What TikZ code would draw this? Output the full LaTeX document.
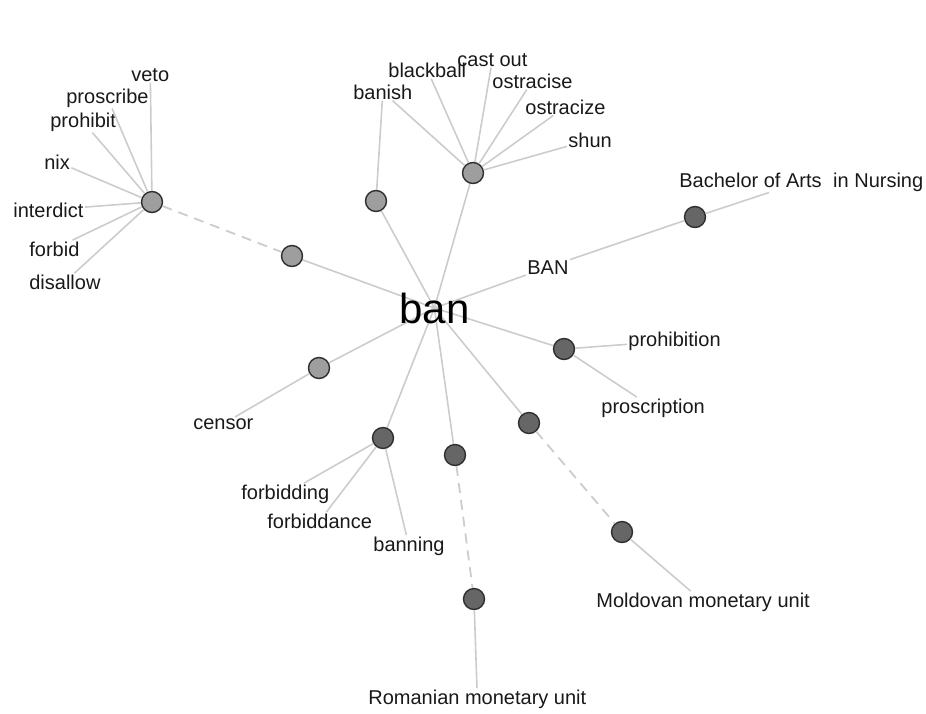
\documentclass[tikz,border=0pt]{standalone}
\usepackage{fontspec}
\setmainfont{Liberation Sans}
\usetikzlibrary{backgrounds}
\definecolor{lightdot}{gray}{0.62}
\definecolor{darkdot}{gray}{0.40}
\definecolor{linkgray}{gray}{0.80}
\definecolor{rimgray}{gray}{0.18}

\tikzset{every picture/.style={line width=0.75pt}}
\tikzset{
    dot/.style={circle, draw=rimgray, line width=1.4pt, minimum size=21pt, inner sep=0pt},
    verbdot/.style={dot, fill=lightdot},
    noundot/.style={dot, fill=darkdot},
    word/.style={anchor=base west, inner sep=1pt, text=black!90, font=\fontsize{20}{23}\selectfont},
    link/.style={draw=linkgray, line width=1.6pt},
    farlink/.style={link, line width=1.8pt, dash pattern={on 10pt off 7pt}}
}

\begin{document}
\begin{tikzpicture}[x=1pt, y=-1pt]
    \useasboundingbox (0,0) rectangle (926,713);
    \node[anchor=base west, inner sep=0pt, font=\fontsize{42}{46}\selectfont] (ban) at (399,323) {ban};

    \node[verbdot] (forbidhub) at (152,202) {};
    \node[verbdot] (forbidnear) at (292,256) {};
    \node[verbdot] (banishdot) at (376,201) {};
    \node[verbdot] (shunhub) at (473,173) {};
    \node[verbdot] (censordot) at (319,368) {};
    \node[noundot] (nursedot) at (695,217) {};
    \node[noundot] (prohibhub) at (564,349) {};
    \node[noundot] (banninghub) at (383,438) {};
    \node[noundot] (leunear) at (455,455) {};
    \node[noundot] (leufar) at (474,599) {};
    \node[noundot] (moldnear) at (529,423) {};
    \node[noundot] (moldfar) at (622,532) {};

    \node[word] (wveto) at (130,81) {veto};
    \node[word] (wproscribe) at (65,103) {proscribe};
    \node[word] (wprohibit) at (49,127) {prohibit};
    \node[word] (wnix) at (43,169) {nix};
    \node[word] (winterdict) at (12,217) {interdict};
    \node[word] (wforbid) at (28,256) {forbid};
    \node[word] (wdisallow) at (28,289) {disallow};
    \node[word] (wbanish) at (352,99) {banish};
    \node[word] (wblackball) at (387,77) {blackball};
    \node[word] (wcastout) at (456,66) {cast out};
    \node[word] (wostracise) at (491,88) {ostracise};
    \node[word] (wostracize) at (524,114) {ostracize};
    \node[word] (wshun) at (567,147) {shun};
    \node[word] (wnursing) at (678,187) {Bachelor of Arts\hspace{0.3em} in Nursing};
    \node[word] (wabbr) at (526,274) {BAN};
    \node[word] (wprohibition) at (627,346) {prohibition};
    \node[word] (wproscription) at (600,413) {proscription};
    \node[word] (wcensor) at (192,429) {censor};
    \node[word] (wforbidding) at (240,499) {forbidding};
    \node[word] (wforbiddance) at (266,528) {forbiddance};
    \node[word] (wbanning) at (372,551) {banning};
    \node[word] (wmoldovan) at (595,607) {Moldovan monetary unit};
    \node[word] (wromanian) at (367,704) {Romanian monetary unit};

    \begin{scope}[on background layer]
        \draw[link] (ban.center) -- (forbidnear) (ban.center) -- (banishdot) (ban.center) -- (shunhub);
        \draw[link] (ban.center) -- (wabbr) (ban.center) -- (prohibhub) (ban.center) -- (moldnear);
        \draw[link] (ban.center) -- (leunear) (ban.center) -- (banninghub) (ban.center) -- (censordot);
    \end{scope}
    \draw[farlink] (forbidhub) -- (forbidnear);
    \draw[farlink] (leunear) -- (leufar);
    \draw[farlink] (moldnear) -- (moldfar);

    \draw[link] (forbidhub) -- (wveto) (forbidhub) -- (wproscribe) (forbidhub) -- (wprohibit);
    \draw[link] (forbidhub) -- (wnix) (forbidhub) -- (winterdict) (forbidhub) -- (wforbid) (forbidhub) -- (wdisallow);
    \draw[link] (shunhub) -- (wbanish) (shunhub) -- (wblackball) (shunhub) -- (wcastout);
    \draw[link] (shunhub) -- (wostracise) (shunhub) -- (wostracize) (shunhub) -- (wshun);
    \draw[link] (banishdot) -- (wbanish);
    \draw[link] (wabbr) -- (nursedot) -- (wnursing);
    \draw[link] (prohibhub) -- (wprohibition) (prohibhub) -- (wproscription);
    \draw[link] (censordot) -- (wcensor);
    \draw[link] (banninghub) -- (wforbidding) (banninghub) -- (wforbiddance) (banninghub) -- (wbanning);
    \draw[link] (leufar) -- (wromanian);
    \draw[link] (moldfar) -- (wmoldovan);
\end{tikzpicture}
\end{document}
